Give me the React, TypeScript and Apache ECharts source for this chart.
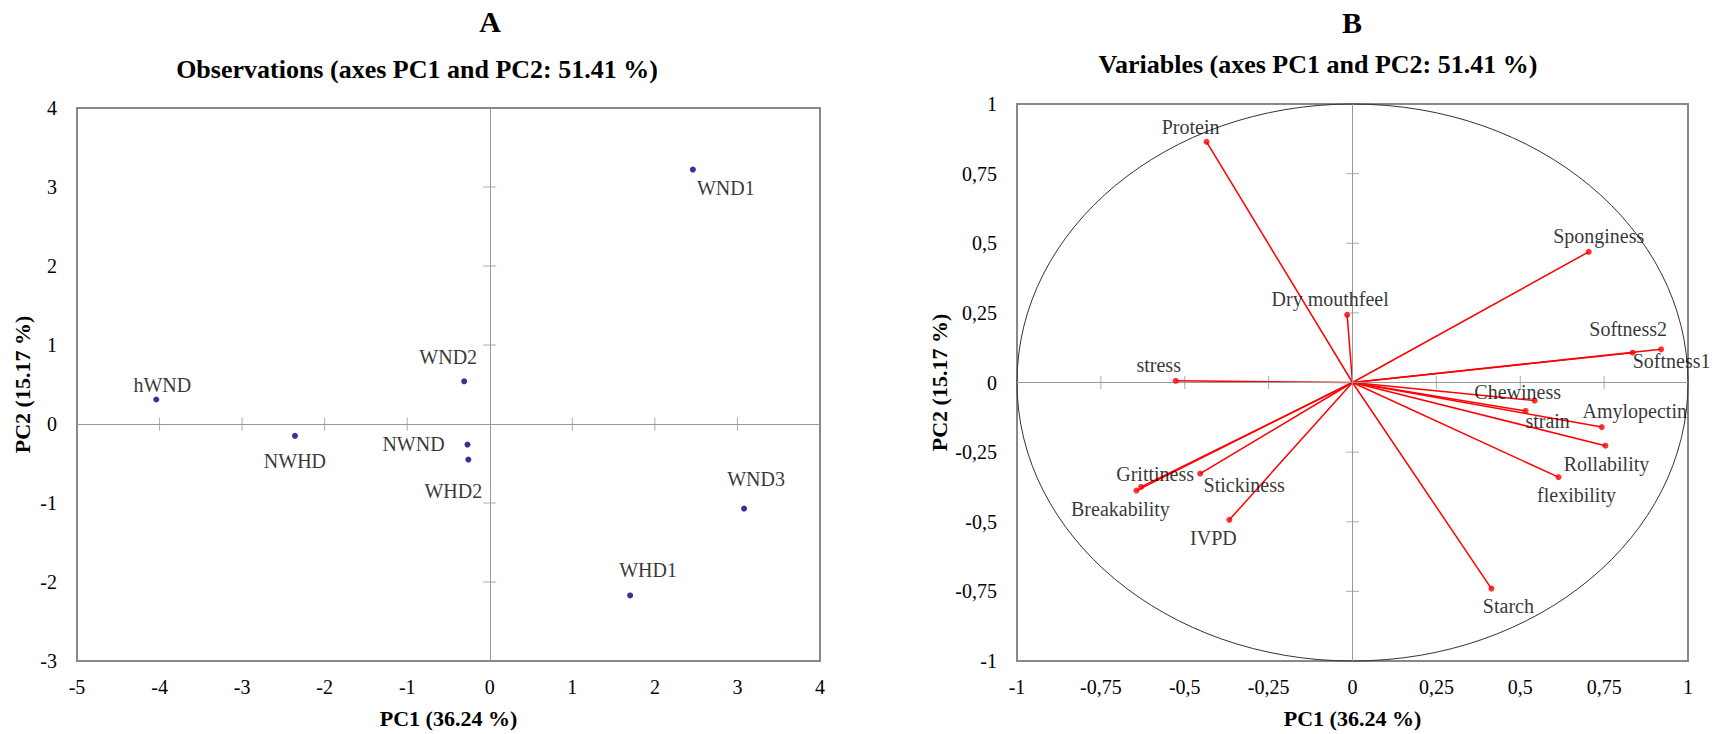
import React, { useEffect, useRef } from 'react';
import * as echarts from 'echarts';

// ---- Panel A: observations ----
const obsNames = ['hWND', 'WND2', 'NWHD', 'NWND', 'WHD2', 'WND3', 'WHD1', 'WND1'];
const obsPC1 = [-4.04, -0.31, -2.36, -0.27, -0.26, 3.08, 1.7, 2.46];
const obsPC2 = [0.31, 0.54, -0.15, -0.26, -0.45, -1.07, -2.17, 3.22];
const obsLabelOffsets = [[6, -15], [-16, -24], [0, 25], [-54, -1], [-15, 31], [12, -30], [18, -25], [33, 18]];
const ticksA_X = [-4, -3, -2, -1, 1, 2, 3];
const ticksA_Y = [-2, -1, 1, 2, 3];

// ---- Panel B: variables ----
const varNames = ['Protein', 'Sponginess', 'Dry mouthfeel', 'Softness2', 'Softness1', 'stress', 'Chewiness', 'strain', 'Amylopectin', 'Rollability', 'flexibility', 'Starch', 'Grittiness', 'Stickiness', 'Breakability', 'IVPD'];
const varPC1 = [-0.435, 0.704, -0.016, 0.92, 0.835, -0.527, 0.543, 0.516, 0.743, 0.754, 0.614, 0.414, -0.63, -0.454, -0.644, -0.367];
const varPC2 = [0.864, 0.469, 0.243, 0.119, 0.107, 0.006, -0.065, -0.102, -0.16, -0.227, -0.34, -0.74, -0.375, -0.327, -0.388, -0.493];
const varLabelOffsets = [[-16, -15], [10, -16], [-17, -16], [-33, -20], [39, 8], [-17, -16], [-17, -9], [22, 10], [33, -16], [1, 18], [18, 18], [17, 17], [14, -13], [44, 11], [-16, 18], [-16, 18]];
const ticksB = [-0.75, -0.5, -0.25, 0.25, 0.5, 0.75];

const FONT = 'Liberation Serif';
const comma = (v: number) => String(v).replace('.', ',');

export default function App() {
  const ref = useRef<HTMLDivElement>(null);
  useEffect(() => {
    document.body.style.margin = '0';
    const chart = echarts.init(ref.current!, undefined, { renderer: 'svg' });
    const axisLabel = { color: '#000', fontSize: 20, fontFamily: FONT };
    const nameStyle = { color: '#000', fontSize: 22, fontWeight: 'bold' as const, fontFamily: FONT };
    const centerLine = {
      silent: true,
      symbol: 'none',
      label: { show: false },
      lineStyle: { color: '#999', width: 1, type: 'solid' as const },
      data: [{ xAxis: 0 }, { yAxis: 0 }],
    };
    const tickSeries = (xi: number, ticksX: number[], ticksY: number[]) => [
      {
        type: 'scatter', xAxisIndex: xi, yAxisIndex: xi, silent: true, symbol: 'rect', symbolSize: [1, 13],
        itemStyle: { color: '#999' }, data: ticksX.map((t) => [t, 0]), markLine: centerLine, z: 1,
      },
      {
        type: 'scatter', xAxisIndex: xi, yAxisIndex: xi, silent: true, symbol: 'rect', symbolSize: [13, 1],
        itemStyle: { color: '#999' }, data: ticksY.map((t) => [0, t]), z: 1,
      },
    ];
    const option: any = {
      animation: false,
      textStyle: { fontFamily: FONT },
      title: [
        { text: 'A', left: 490, top: 6, textAlign: 'center', padding: 0, textStyle: { fontSize: 30, fontWeight: 'bold', fontFamily: FONT, color: '#000' } },
        { text: 'B', left: 1352, top: 7, textAlign: 'center', padding: 0, textStyle: { fontSize: 30, fontWeight: 'bold', fontFamily: FONT, color: '#000' } },
        { text: 'Observations (axes PC1 and PC2: 51.41 %)', left: 417, top: 56, textAlign: 'center', padding: 0, textStyle: { fontSize: 26, fontWeight: 'bold', fontFamily: FONT, color: '#000' } },
        { text: 'Variables (axes PC1 and PC2: 51.41 %)', left: 1318, top: 51, textAlign: 'center', padding: 0, textStyle: { fontSize: 26, fontWeight: 'bold', fontFamily: FONT, color: '#000' } },
      ],
      grid: [
        { left: 77, top: 108, width: 743, height: 556, show: true, borderColor: '#888', borderWidth: 2, backgroundColor: '#fff' },
        { left: 1017, top: 104, width: 671, height: 560, show: true, borderColor: '#888', borderWidth: 2, backgroundColor: '#fff' },
      ],
      xAxis: [
        {
          gridIndex: 0, type: 'value', min: -5, max: 4, interval: 1,
          axisLine: { show: false }, axisTick: { show: false }, splitLine: { show: false },
          axisLabel: { ...axisLabel, margin: 16 },
          name: 'PC1 (36.24 %)', nameLocation: 'middle', nameGap: 46, nameTextStyle: nameStyle,
        },
        {
          gridIndex: 1, type: 'value', min: -1, max: 1, interval: 0.25,
          axisLine: { show: false }, axisTick: { show: false }, splitLine: { show: false },
          axisLabel: { ...axisLabel, margin: 16, formatter: comma },
          name: 'PC1 (36.24 %)', nameLocation: 'middle', nameGap: 46, nameTextStyle: nameStyle,
        },
      ],
      yAxis: [
        {
          gridIndex: 0, type: 'value', min: -3, max: 4, interval: 1,
          axisLine: { show: false }, axisTick: { show: false }, splitLine: { show: false },
          axisLabel: { ...axisLabel, margin: 20 },
          name: 'PC2 (15.17 %)', nameLocation: 'middle', nameGap: 44, nameTextStyle: nameStyle,
        },
        {
          gridIndex: 1, type: 'value', min: -1, max: 1, interval: 0.25,
          axisLine: { show: false }, axisTick: { show: false }, splitLine: { show: false },
          axisLabel: { ...axisLabel, margin: 20, formatter: comma },
          name: 'PC2 (15.17 %)', nameLocation: 'middle', nameGap: 67, nameTextStyle: nameStyle,
        },
      ],
      series: [
        ...tickSeries(0, ticksA_X, ticksA_Y),
        ...tickSeries(1, ticksB, ticksB),
        {
          type: 'scatter', xAxisIndex: 0, yAxisIndex: 0, symbol: 'circle', symbolSize: 6,
          itemStyle: { color: '#000080' }, z: 5,
          label: { show: true, position: 'inside', formatter: '{b}', color: '#000', fontSize: 20, fontFamily: FONT, textBorderWidth: 0 },
          data: obsNames.map((n, i) => ({ name: n, value: [obsPC1[i], obsPC2[i]], label: { offset: obsLabelOffsets[i] } })),
        },
        ...varNames.map((n, i) => ({
          type: 'line', xAxisIndex: 1, yAxisIndex: 1, silent: true, symbol: 'none', z: 3,
          lineStyle: { color: '#ff0000', width: 1.5 },
          data: [[0, 0], [varPC1[i], varPC2[i]]],
        })),
        {
          type: 'scatter', xAxisIndex: 1, yAxisIndex: 1, symbol: 'circle', symbolSize: 6,
          itemStyle: { color: '#ff0000' }, z: 5,
          label: { show: true, position: 'inside', formatter: '{b}', color: '#000', fontSize: 20, fontFamily: FONT, textBorderWidth: 0 },
          data: varNames.map((n, i) => ({ name: n, value: [varPC1[i], varPC2[i]], label: { offset: varLabelOffsets[i] } })),
        },
      ],
    };
    chart.setOption(option);
    const c = chart.convertToPixel({ gridIndex: 1 } as any, [0, 0]) as number[];
    const e = chart.convertToPixel({ gridIndex: 1 } as any, [1, 1]) as number[];
    chart.setOption({
      graphic: [
        {
          type: 'ellipse', silent: true, z: 2,
          shape: { cx: c[0], cy: c[1], rx: e[0] - c[0], ry: c[1] - e[1] },
          style: { fill: 'none', stroke: '#333', lineWidth: 1 },
        },
      ],
    });
    return () => chart.dispose();
  }, []);
  return <div ref={ref} style={{ width: 1726, height: 734 }} />;
}
